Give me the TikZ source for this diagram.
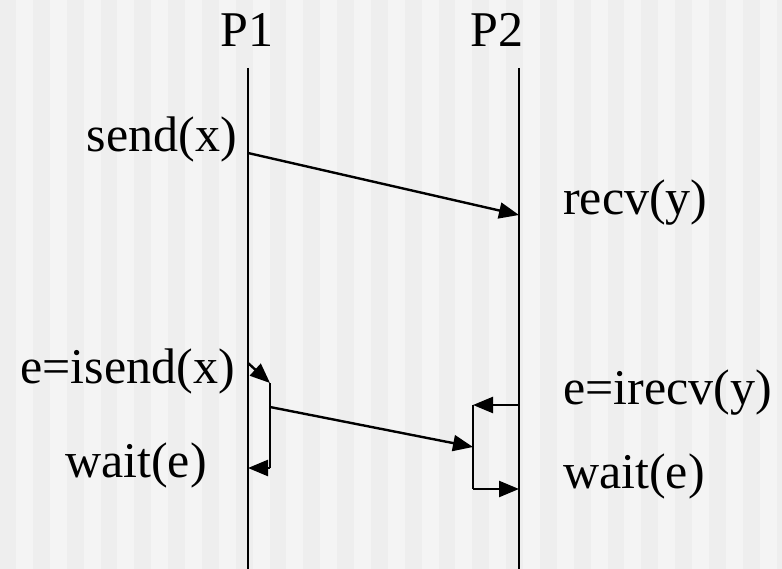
\documentclass[tikz,border=0pt]{standalone}
\usepackage{fontspec}
\setmainfont{Liberation Serif}
\usetikzlibrary{arrows.meta}
\definecolor{stripeA}{RGB}{238,238,238}
\definecolor{stripeB}{RGB}{244,244,244}
\tikzset{
  lbl/.style={inner sep=0pt, font=\fontsize{50}{60}\selectfont},
  life/.style={line width=2.4pt},
  msg/.style={line width=2.4pt, -{Triangle[length=20pt,width=16pt]}},
  seg/.style={line width=2.4pt}
}
\begin{document}
\begin{tikzpicture}[x=1pt,y=-1pt]
  % striped backdrop
  \useasboundingbox (0,0) rectangle (782,569);
  \fill[stripeB] (0,0) rectangle (782,569);
  \foreach \i in {0,2,...,46} {
    \fill[stripeA] ({16.9*\i-0.9},0) rectangle ({16.9*\i+16},569);
  }

  % process titles
  \node[lbl, anchor=base] (p1) at (247,47) {P1};
  \node[lbl, anchor=base] (p2) at (497,47) {P2};

  % lifelines
  \coordinate (p1top) at (248,68);
  \coordinate (p1bot) at (248,569);
  \coordinate (p2top) at (519,68);
  \coordinate (p2bot) at (519,569);
  \draw[life] (p1top) -- (p1bot);
  \draw[life] (p2top) -- (p2bot);

  % blocking send / recv
  \coordinate (sendpt) at (248,153);
  \coordinate (recvpt) at (519,215);
  \draw[msg] (sendpt) -- (recvpt);
  \node[lbl, anchor=base east] (send) at (237,152) {send(x)};
  \node[lbl, anchor=base west] (recv) at (563,215) {recv(y)};

  % non-blocking isend on P1
  \coordinate (isA) at (248,363);
  \coordinate (isB) at (270,383);
  \coordinate (isC) at (270,468);
  \coordinate (isD) at (248,468);
  \coordinate (isM) at (270,407);
  \draw[msg] (isA) -- (isB);
  \draw[seg] (isB) -- (isC);
  \draw[msg] (isC) -- (isD);

  % non-blocking irecv on P2
  \coordinate (irA) at (519,405);
  \coordinate (irB) at (473,405);
  \coordinate (irM) at (473,447);
  \coordinate (irC) at (473,489);
  \coordinate (irD) at (519,489);
  \draw[msg] (irA) -- (irB);
  \draw[seg] (irB) -- (irC);
  \draw[msg] (irC) -- (irD);

  % message in flight
  \draw[msg] (isM) -- (irM);

  \node[lbl, anchor=base east] (isend) at (235,384) {e=isend(x)};
  \node[lbl, anchor=base east] (wait1) at (207,477) {wait(e)};
  \node[lbl, anchor=base west] (irecv) at (563,404) {e=irecv(y)};
  \node[lbl, anchor=base west] (wait2) at (563,488) {wait(e)};
\end{tikzpicture}
\end{document}
